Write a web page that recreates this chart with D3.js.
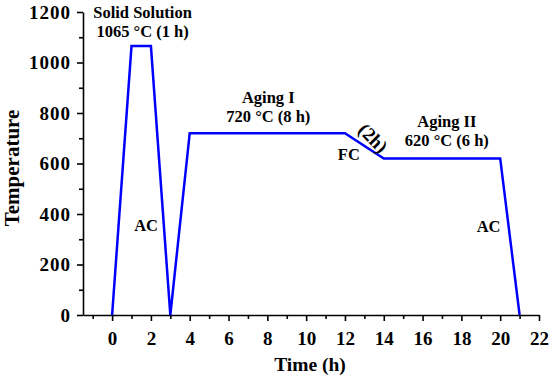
<!DOCTYPE html>
<html><head><meta charset="utf-8">
<script src="https://cdn.jsdelivr.net/npm/d3@7"></script>
<style>body{margin:0;background:#fff} svg text{font-family:"Liberation Serif",serif;}</style>
</head><body>
<svg id="c" width="550" height="379"></svg>
<script>
const timeH = [0, 1, 2, 3, 4, 12, 14, 20, 21];
const tempC = [0, 1065, 1065, 0, 720, 720, 620, 620, 0];
const xTicks = [0,2,4,6,8,10,12,14,16,18,20,22];
const yTicks = [0,200,400,600,800,1000,1200];
const labels = [
  {t:"Solid Solution", x:1.57, y:1176},
  {t:"1065 °C (1 h)", x:1.57, y:1101},
  {t:"Aging I", x:8.05, y:840},
  {t:"720 °C (8 h)", x:8.05, y:764},
  {t:"Aging II", x:17.25, y:745},
  {t:"620 °C (6 h)", x:17.25, y:669},
  {t:"FC", x:12.2, y:614},
  {t:"AC", x:1.75, y:333},
  {t:"AC", x:19.4, y:329}
];
const svg = d3.select("#c");
const font = "Liberation Serif";
const x = d3.scaleLinear().domain([-1.5, 22]).range([83, 539]);
const y = d3.scaleLinear().domain([0, 1200]).range([315, 12]);

const gx = svg.append("g").attr("transform","translate(0,315)")
  .call(d3.axisBottom(x).tickValues(xTicks).tickSize(6).tickPadding(4).tickSizeOuter(0).tickFormat(d3.format("d")));
svg.append("g").attr("transform","translate(0,315)")
  .call(d3.axisBottom(x).tickValues(d3.range(-1,22,2)).tickSize(4).tickFormat("").tickSizeOuter(0))
  .select(".domain").remove();
const gy = svg.append("g").attr("transform","translate(83,0)")
  .call(d3.axisLeft(y).tickValues(yTicks).tickSize(6).tickPadding(6).tickSizeOuter(0).tickFormat(d3.format("d")));
svg.append("g").attr("transform","translate(83,0)")
  .call(d3.axisLeft(y).tickValues(d3.range(100,1200,200)).tickSize(4).tickFormat("").tickSizeOuter(0))
  .select(".domain").remove();
[gx, gy].forEach(g => g.attr("font-family", font).attr("font-size", 19));
svg.selectAll(".domain, .tick line").attr("stroke","#000").attr("stroke-width",1.6);
svg.selectAll(".tick text").style("font-family",font).style("font-weight","bold").style("font-size","19px").attr("fill","#000");
gx.selectAll(".tick text").attr("dy","1.05em");
gy.selectAll(".tick text").attr("letter-spacing","1px");

svg.append("text").attr("x", x(10.2)).attr("y", 371).attr("text-anchor","middle")
  .attr("font-family",font).attr("font-weight","bold").attr("font-size",19.5).text("Time (h)");
svg.append("text").attr("transform",`translate(19,168) rotate(-90)`).attr("text-anchor","middle")
  .attr("font-family",font).attr("font-weight","bold").attr("font-size",21).text("Temperature");

const line = d3.line().x((d,i)=>x(timeH[i])).y((d,i)=>y(tempC[i]));
svg.append("path").datum(timeH).attr("d", line).attr("fill","none")
  .attr("stroke","#0000ff").attr("stroke-width",2.5).attr("stroke-linejoin","miter");

svg.selectAll(".ann").data(labels).enter().append("text")
  .attr("x", d=>x(d.x)).attr("y", d=>y(d.y)).attr("text-anchor","middle")
  .attr("font-family",font).attr("font-weight","bold").attr("font-size",16.5).text(d=>d.t);

svg.append("text").attr("transform",`translate(${x(13.45)},${y(701)}) rotate(45)`).attr("text-anchor","middle")
  .attr("dominant-baseline","central")
  .attr("font-family",font).attr("font-weight","bold").attr("font-size",19).text("(2h)");
</script>
</body></html>
